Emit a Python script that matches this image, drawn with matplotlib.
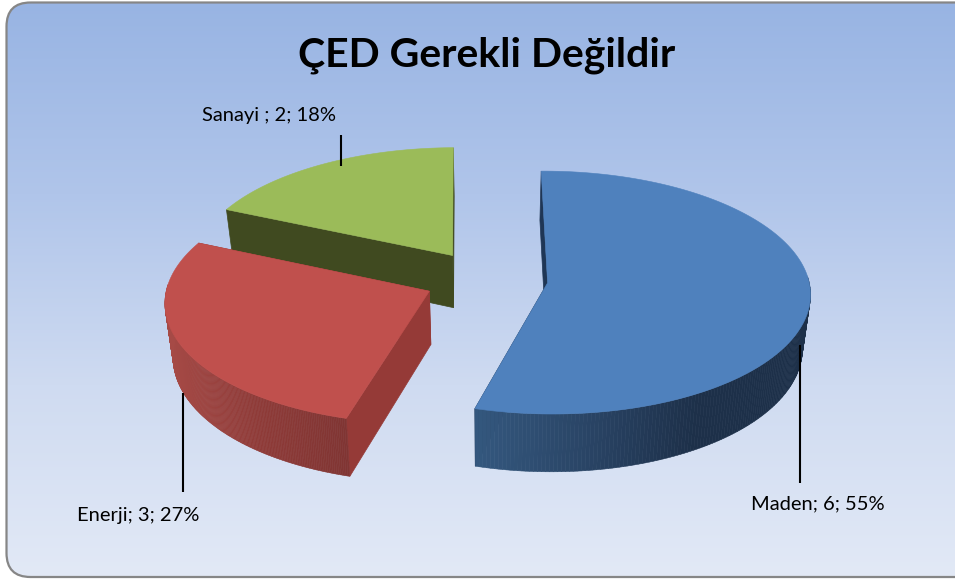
import numpy as np
import matplotlib
matplotlib.use("Agg")
import matplotlib.pyplot as plt
from matplotlib.patches import FancyBboxPatch, Polygon
from matplotlib.colors import LinearSegmentedColormap, to_rgb

title = "ÇED Gerekli Değildir"
categories = ["Maden", "Enerji", "Sanayi "]
values = [6, 3, 2]
percents = [55, 27, 18]
top_colors = ["#4f81bd", "#c0504d", "#9bbb59"]
cut_colors = ["#1f3655", "#953a37", "#404a20"]
rim_colors = [["#34587f", "#2a4566", "#1d3049", "#1d3049"],
              ["#a64a46", "#8f3b38", "#803533"],
              ["#404a20", "#404a20"]]
label_pos = [(818, 504), (138, 515), (269, 115)]
leaders = [((800, 345), (800, 483)), ((183, 393), (183, 492)), ((341, 135), (341, 166))]

# camera / layout
CX, CY, R, EXPL = 486, 279, 261, 62
F, K, VX, DEPTH, CONV = 0.46, 0.08, 490, 53, 0.025


def project(wx, wy, z):
    s = 1 / (1 + K * wy / R)
    x = VX + (CX - VX + wx) * s
    y = CY + (-F * wy + z) * s
    x = VX + (x - VX) * (1 - CONV * z / DEPTH)
    return x, y


def lerp(cols, t):
    c = np.array([to_rgb(v) for v in cols])
    p = np.clip(t, 0, 1) * (len(c) - 1)
    i = min(int(p), len(c) - 2)
    return c[i] + (c[i + 1] - c[i]) * (p - i)


fig = plt.figure(figsize=(9.55, 5.79), dpi=100)
ax = fig.add_axes([0, 0, 1, 1])
ax.set_xlim(0, 955)
ax.set_ylim(579, 0)
ax.axis("off")

# background
cmap = LinearSegmentedColormap.from_list("bg", ["#98b4e3", "#b0c5ea", "#cfdbf1", "#e2e9f6"])
box = FancyBboxPatch((6.5, 2.5), 980, 574.5, boxstyle="round,pad=0,rounding_size=24",
                     fc="none", ec="#868686", lw=1.6, zorder=1)
ax.add_patch(box)
im = ax.imshow(np.linspace(0, 1, 256)[:, None], extent=(6, 990, 577, 2), cmap=cmap,
               aspect="auto", zorder=0)
im.set_clip_path(box)
ax.set_xlim(0, 955)
ax.set_ylim(579, 0)

total = sum(values)
starts = np.cumsum([0] + values[:-1]) / total * 360 - 0.5
ends = starts + np.array(values) / total * 360

# draw back to front: Sanayi, Maden, Enerji
for zo, idx in enumerate([2, 0, 1]):
    a0, a1 = np.radians(starts[idx]), np.radians(ends[idx])
    mid = (a0 + a1) / 2
    ox, oy = EXPL * np.sin(mid), EXPL * np.cos(mid)
    th = np.linspace(a0, a1, 241)
    wx, wy = ox + R * np.sin(th), oy + R * np.cos(th)
    base = 2 + zo * 5
    # radial cut faces
    for a in (a0, a1):
        pts = [project(ox, oy, 0), project(ox + R * np.sin(a), oy + R * np.cos(a), 0),
               project(ox + R * np.sin(a), oy + R * np.cos(a), DEPTH), project(ox, oy, DEPTH)]
        ax.add_patch(Polygon(pts, closed=True, fc=cut_colors[idx], ec=cut_colors[idx],
                             lw=0.5, zorder=base))
    # outer rim, strip by strip, only the part facing the viewer
    front = np.where(np.cos(th) < 0.06)[0]
    if len(front) > 1:
        xs = project(wx[front], wy[front], 0)[0]
        for j in range(len(front) - 1):
            a, b = front[j], front[j + 1]
            p0 = project(wx[a], wy[a], 0); p1 = project(wx[b], wy[b], 0)
            p2 = project(wx[b], wy[b], DEPTH); p3 = project(wx[a], wy[a], DEPTH)
            t = (p0[0] - xs.min()) / (xs.max() - xs.min())
            col = lerp(rim_colors[idx], t)
            ax.add_patch(Polygon([p0, p1, p2, p3], closed=True, fc=col, ec=col, lw=0.4,
                                 zorder=base + 1))
    # top face
    tx, ty = project(wx, wy, 0)
    apx, apy = project(ox, oy, 0)
    ax.add_patch(Polygon(np.column_stack([np.r_[apx, tx], np.r_[apy, ty]]), closed=True,
                         fc=top_colors[idx], ec=top_colors[idx], lw=0.4, zorder=base + 2))

for (p, q) in leaders:
    ax.plot([p[0], q[0]], [p[1], q[1]], color="black", lw=1.5, zorder=30, solid_capstyle="butt")

for c, v, pc, (lx, ly) in zip(categories, values, percents, label_pos):
    ax.text(lx, ly, f"{c}; {v}; {pc}%", ha="center", va="center", fontsize=14.5,
            family="Lato", color="black", zorder=31)
ax.text(487, 55, title, ha="center", va="center", fontsize=29.5, family="Lato",
        fontweight="bold", color="black", zorder=31)

fig.savefig("out.png", dpi=100)
